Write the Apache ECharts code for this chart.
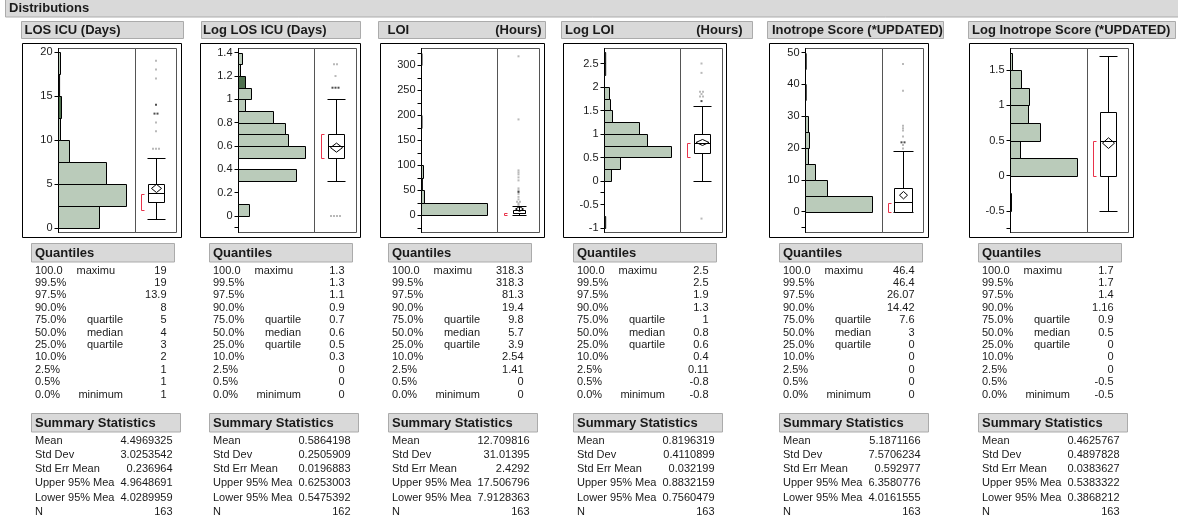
<!DOCTYPE html>
<html>
<head>
<meta charset="utf-8">
<script src="https://cdn.jsdelivr.net/npm/echarts@6/dist/echarts.min.js"></script>
<style>
  html, body { margin: 0; padding: 0; background: #fff; }
  #main { width: 1178px; height: 518px; }
</style>
</head>
<body>
<div id="main"></div>
<script>
// ---- data ----
var titles = ['LOS ICU (Days)', 'Log LOS ICU (Days)', 'LOI', 'Log LOI', 'Inotrope Score (*UPDATED)', 'Log Inotrope Score (*UPDATED)'];
var titleUnits = ['', '', '(Hours)', '(Hours)', '', ''];

// histogram bins (first bin start, bin width, counts per bin)
var binStart = [0, 0, 0, -1, 0, -0.5];
var binWidth = [2.5, 0.1, 25, 0.25, 5, 0.25];
var losIcuCounts = [38, 63, 44, 10, 2, 3, 1, 2];
var logLosIcuCounts = [6, 0, 0, 31, 0, 36, 27, 25, 19, 4, 7, 4, 1, 2];
var loiCounts = [149, 6, 2, 4, 0, 0, 0, 1, 0, 0, 0, 0, 1];
var logLoiCounts = [1, 0, 0, 0, 6, 14, 57, 37, 30, 7, 5, 4, 0, 1, 1];
var inotropeCounts = [99, 32, 14, 5, 6, 5, 0, 1, 0, 1];
var logInotropeCounts = [1, 0, 69, 10, 31, 19, 20, 11, 2];
var selectedBin = [5, 11, -1, -1, -1, -1];

// box plots
var whiskers = [[1, 8], [0.3, 1.0], [0, 18.6], [0, 1.6], [0, 19], [-0.5, 1.7]];
var shortestHalf = [[2, 3.85], [0.5, 0.7], [0.5, 5.5], [0.5, 0.8], [0, 2.6], [0, 0.5]];
var outliers = [
  [9, 9, 9, 11, 12, 17, 18, 19],
  [0, 0, 0, 0, 1.2, 1.3, 1.3],
  [318.3, 192, 90, 86, 82, 76, 70, 54, 50, 43, 37, 32, 27, 27, 24, 21],
  [2.5, 2.3, 1.9, 1.9, 1.85, 1.8, 1.8, -0.8],
  [46.4, 38, 27, 26.2, 25.5, 23.6, 21, 19.9],
  []
];
var outliersSelected = [[13, 13, 14], [1.1, 1.1, 1.1], [47], [1.7], [21.8, 21.8], []];

// axis ticks
var tickLabels = [
  [0, 5, 10, 15, 20],
  [0, 0.2, 0.4, 0.6, 0.8, 1, 1.2, 1.4],
  [0, 50, 100, 150, 200, 250, 300],
  [-1, -0.5, 0, 0.5, 1, 1.5, 2, 2.5],
  [0, 10, 20, 30, 40, 50],
  [-0.5, 0, 0.5, 1, 1.5]
];
var minorTicks = [[], [-0.1], [-25, 25, 75, 125, 175, 225, 275, 325], [-0.25], [-5], [-0.75]];

// tables
var quantileLevels = ['100.0', '99.5%', '97.5%', '90.0%', '75.0%', '50.0%', '25.0%', '10.0%', '2.5%', '0.5%', '0.0%'];
var quantileNames = ['maximu', '', '', '', 'quartile', 'median', 'quartile', '', '', '', 'minimum'];
var quantiles = [
  ['19', '19', '13.9', '8', '5', '4', '3', '2', '1', '1', '1'],
  ['1.3', '1.3', '1.1', '0.9', '0.7', '0.6', '0.5', '0.3', '0', '0', '0'],
  ['318.3', '318.3', '81.3', '19.4', '9.8', '5.7', '3.9', '2.54', '1.41', '0', '0'],
  ['2.5', '2.5', '1.9', '1.3', '1', '0.8', '0.6', '0.4', '0.11', '-0.8', '-0.8'],
  ['46.4', '46.4', '26.07', '14.42', '7.6', '3', '0', '0', '0', '0', '0'],
  ['1.7', '1.7', '1.4', '1.16', '0.9', '0.5', '0', '0', '0', '-0.5', '-0.5']
];
var summaryLabels = ['Mean', 'Std Dev', 'Std Err Mean', 'Upper 95% Mea', 'Lower 95% Mea', 'N'];
var summaries = [
  ['4.4969325', '3.0253542', '0.236964', '4.9648691', '4.0289959', '163'],
  ['0.5864198', '0.2505909', '0.0196883', '0.6253003', '0.5475392', '162'],
  ['12.709816', '31.01395', '2.4292', '17.506796', '7.9128363', '163'],
  ['0.8196319', '0.4110899', '0.032199', '0.8832159', '0.7560479', '163'],
  ['5.1871166', '7.5706234', '0.592977', '6.3580776', '4.0161555', '163'],
  ['0.4625767', '0.4897828', '0.0383627', '0.5383322', '0.3868212', '163']
];

// ---- layout ----
var counts = [losIcuCounts, logLosIcuCounts, loiCounts, logLoiCounts, inotropeCounts, logInotropeCounts];
var frameL = [22.5, 200.5, 380.5, 563.5, 769.5, 969.5];
var frameR = [181.5, 360.5, 544.5, 726.5, 928.5, 1133.5];
var plotL = [58.5, 238.5, 421.5, 604.5, 805.5, 1010.5];
var plotD = [135.5, 314.5, 497.5, 680.5, 882.5, 1087.5];
var plotR = [176.5, 356.5, 539.5, 722.5, 923.5, 1128.5];
var plotT = 48.5, plotB = 232.5;
var yMin = [-0.51, -0.141, -34.3, -1.096, -6.54, -0.807];
var yMax = [20.4, 1.436, 333.9, 2.819, 51.3, 1.807];
var countMax = [71.3, 40.8, 170.5, 64.8, 113.3, 79.3];
var titleL = [21.5, 201.5, 378.5, 561.5, 767.5, 968.5];
var titleR = [183.5, 360.5, 545.5, 752.5, 943.5, 1175.5];
var titlePad = [3, 1.5, 9, 3.5, 4.5, 3.5];
var unitR = [0, 0, 541.5, 742.5, 0, 0];
var tableL = [31.5, 209.5, 388.5, 573.5, 779.5, 978.5];
var boxW = [15, 16, 12, 16, 18, 16];
var diamondW = [10, 12, 8, 13, 8, 12];

var FONT = '"Liberation Sans", Arial, Helvetica, sans-serif';
var lightFill = '#bacbba', darkFill = '#4f714f';

var chart = echarts.init(document.getElementById('main'));
var grids = [], xAxes = [], yAxes = [], series = [], graphics = [];

function text(x, y, s, size, bold, align) {
  graphics.push({
    type: 'text', x: x, y: y, z: 10,
    style: {
      text: s, font: (bold ? 'bold ' : '') + size + 'px ' + FONT, fill: '#1a1a1a',
      align: align || 'left', textAlign: align || 'left',
      verticalAlign: 'middle', textVerticalAlign: 'middle'
    }
  });
}
function headerBox(x, y, w, h) {
  graphics.push({
    type: 'rect', z: 5,
    shape: { x: x, y: y, width: w, height: h },
    style: { fill: '#d9d9d9', stroke: '#ababab', lineWidth: 1 }
  });
}

// top bar
headerBox(5.5, -0.5, 1175, 17.5);
text(9, 8.5, 'Distributions', 13, true);

function spread(list) {
  var seen = {}, tot = {};
  list.forEach(function (v) { tot[v] = (tot[v] || 0) + 1; });
  return list.map(function (v) {
    var j = seen[v] = (seen[v] === undefined ? 0 : seen[v] + 1);
    return { value: [0, v], symbolOffset: [(j - (tot[v] - 1) / 2) * 3, 0] };
  });
}

function barRender(i) {
  return function (params, api) {
    var lo = api.value(0), hi = api.value(1), c = api.value(2);
    var a = api.coord([0, hi]), b = api.coord([c, lo]);
    var x0 = Math.floor(a[0]) + 0.5;
    var y0 = Math.round(a[1]) + 0.5, y1 = Math.round(b[1]) + 0.5;
    var w = b[0] - a[0];
    if (w >= 1.5) w = Math.round(w);
    return {
      type: 'rect',
      shape: { x: x0, y: y0, width: w, height: y1 - y0 },
      style: { fill: api.value(3) ? darkFill : lightFill, stroke: '#000', lineWidth: 1 }
    };
  };
}

function boxRender(i) {
  return function (params, api) {
    function Y(k) { return Math.round(api.coord([0, api.value(k)])[1]) + 0.5; }
    var cx = Math.round(api.coord([0, api.value(2)])[0]) + 0.5;
    var hw = Math.round(boxW[i] / 2), dw = diamondW[i] / 2;
    var wl = Y(0), q1 = Y(1), md = Y(2), q3 = Y(3), wh = Y(4);
    var mn = api.coord([0, api.value(5)])[1], lo = api.coord([0, api.value(6)])[1], hi = api.coord([0, api.value(7)])[1];
    var sl = Y(8), sh = Y(9);
    var st = { stroke: '#000', lineWidth: 1, fill: null };
    var bx = cx - 15;
    return {
      type: 'group',
      children: [
        { type: 'line', shape: { x1: cx, y1: wl, x2: cx, y2: q1 }, style: st },
        { type: 'line', shape: { x1: cx, y1: q3, x2: cx, y2: wh }, style: st },
        { type: 'line', shape: { x1: cx - hw - 1, y1: wl, x2: cx + hw + 1, y2: wl }, style: st },
        { type: 'line', shape: { x1: cx - hw - 1, y1: wh, x2: cx + hw + 1, y2: wh }, style: st },
        { type: 'rect', shape: { x: cx - hw, y: q3, width: 2 * hw, height: q1 - q3 }, style: { fill: '#fff', stroke: '#000', lineWidth: 1 } },
        { type: 'line', shape: { x1: cx - hw, y1: md, x2: cx + hw, y2: md }, style: st },
        { type: 'polygon', shape: { points: [[cx, hi], [cx + dw, mn], [cx, lo], [cx - dw, mn]] }, style: st },
        { type: 'polyline', shape: { points: [[bx + 3, sh], [bx, sh], [bx, sl], [bx + 3, sl]] }, style: { stroke: '#e8334a', lineWidth: 1, fill: null } }
      ]
    };
  };
}

for (var i = 0; i < 6; i++) {
  // frame + title
  graphics.push({
    type: 'rect', z: -1,
    shape: { x: frameL[i], y: 43.5, width: frameR[i] - frameL[i], height: 194 },
    style: { fill: '#fff', stroke: '#000', lineWidth: 1 }
  });
  headerBox(titleL[i], 21.5, titleR[i] - titleL[i], 17);
  text(titleL[i] + titlePad[i], 30, titles[i], 13, true);
  if (titleUnits[i]) text(unitR[i], 30, titleUnits[i], 13, true, 'right');

  // grids
  grids.push({ left: plotL[i], top: plotT, width: plotD[i] - plotL[i], height: plotB - plotT,
    show: true, borderColor: '#555', borderWidth: 1, outerBoundsMode: 'none' });
  grids.push({ left: plotD[i], top: plotT, width: plotR[i] - plotD[i], height: plotB - plotT,
    show: true, borderColor: '#555', borderWidth: 1, outerBoundsMode: 'none' });

  xAxes.push({ gridIndex: 2 * i, type: 'value', min: 0, max: countMax[i], show: false });
  xAxes.push({ gridIndex: 2 * i + 1, type: 'value', min: -1, max: 1, show: false });
  yAxes.push({
    gridIndex: 2 * i, type: 'value', min: yMin[i], max: yMax[i],
    axisLine: { show: true, lineStyle: { color: '#000', width: 1 } },
    axisTick: { show: true, length: 4, lineStyle: { color: '#000' },
      customValues: tickLabels[i].concat(minorTicks[i]) },
    axisLabel: { customValues: tickLabels[i], fontSize: 11, fontFamily: FONT, color: '#1a1a1a', margin: 6 },
    splitLine: { show: false }
  });
  yAxes.push({ gridIndex: 2 * i + 1, type: 'value', min: yMin[i], max: yMax[i], show: false, splitLine: { show: false } });

  // histogram
  var bars = [];
  counts[i].forEach(function (c, k) {
    if (c > 0) bars.push([binStart[i] + k * binWidth[i], binStart[i] + (k + 1) * binWidth[i], c, k === selectedBin[i] ? 1 : 0]);
  });
  series.push({ type: 'custom', xAxisIndex: 2 * i, yAxisIndex: 2 * i, renderItem: barRender(i), data: bars, silent: true });

  // box plot
  var q = quantiles[i], s = summaries[i];
  series.push({
    type: 'custom', xAxisIndex: 2 * i + 1, yAxisIndex: 2 * i + 1, renderItem: boxRender(i), silent: true,
    data: [[whiskers[i][0], parseFloat(q[6]), parseFloat(q[5]), parseFloat(q[4]), whiskers[i][1],
      parseFloat(s[0]), parseFloat(s[4]), parseFloat(s[3]), shortestHalf[i][0], shortestHalf[i][1]]]
  });
  series.push({ type: 'scatter', xAxisIndex: 2 * i + 1, yAxisIndex: 2 * i + 1, symbol: 'rect', symbolSize: 2,
    itemStyle: { color: '#a8a8a8' }, data: spread(outliers[i]), silent: true, z: 3 });
  series.push({ type: 'scatter', xAxisIndex: 2 * i + 1, yAxisIndex: 2 * i + 1, symbol: 'rect', symbolSize: 2,
    itemStyle: { color: '#222' }, data: spread(outliersSelected[i]), silent: true, z: 4 });

  // quantiles table
  var tl = tableL[i];
  headerBox(tl, 243.5, 143, 18.5);
  text(tl + 3.5, 253, 'Quantiles', 13, true);
  for (var r = 0; r < quantileLevels.length; r++) {
    var y = 270.5 + r * 12.4;
    text(tl + 3.5, y, quantileLevels[r], 11);
    if (quantileNames[r]) {
      if (r === 0) text(tl + 45, y, quantileNames[r], 11);
      else text(tl + 91.5, y, quantileNames[r], 11, false, 'right');
    }
    text(tl + 135, y, q[r], 11, false, 'right');
  }
  // summary table
  headerBox(tl, 413.5, 149, 18.5);
  text(tl + 3.5, 423, 'Summary Statistics', 13, true);
  for (var r2 = 0; r2 < summaryLabels.length; r2++) {
    var y2 = 440.5 + r2 * 14.25;
    text(tl + 3.5, y2, summaryLabels[r2], 11);
    text(tl + 141, y2, s[r2], 11, false, 'right');
  }
}

chart.setOption({
  animation: false,
  grid: grids,
  xAxis: xAxes,
  yAxis: yAxes,
  series: series,
  graphic: { elements: graphics }
});
</script>
</body>
</html>
